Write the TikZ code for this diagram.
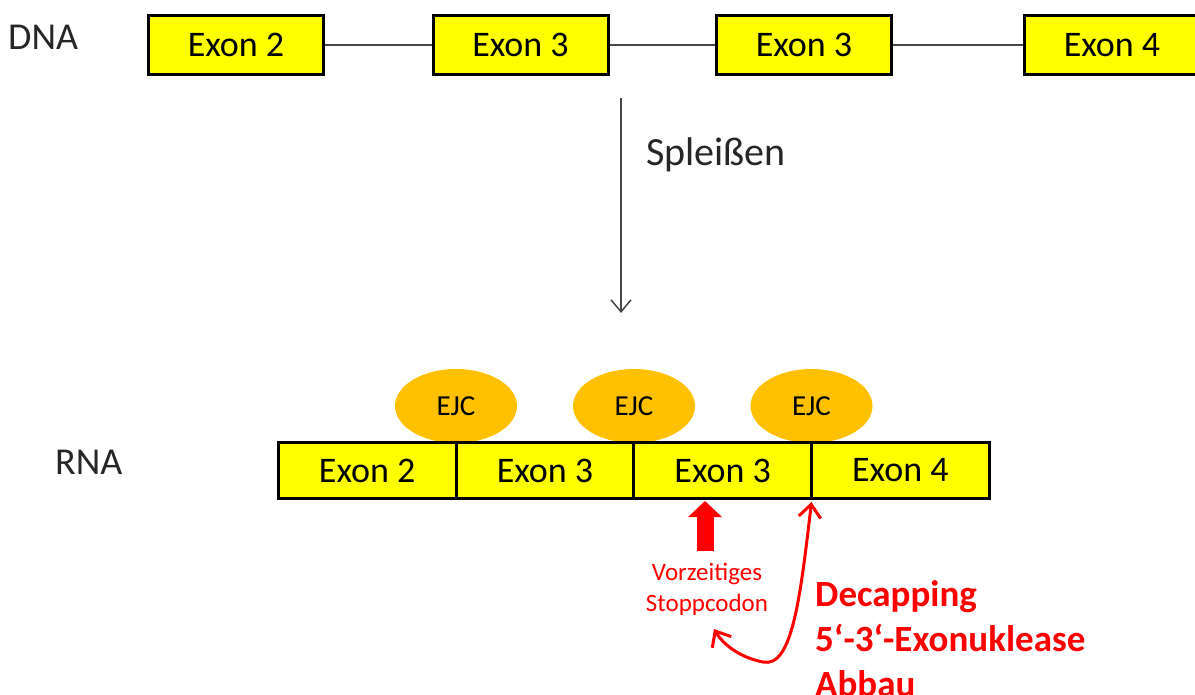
\documentclass[tikz,border=0pt]{standalone}
\usepackage{fontspec}
\setmainfont{Carlito}
\usetikzlibrary{arrows.meta,shapes.geometric}
\definecolor{exonyellow}{RGB}{255,255,0}
\definecolor{ejcorange}{RGB}{255,192,0}
\definecolor{linkgray}{RGB}{70,70,70}
\definecolor{mred}{RGB}{255,0,0}
\begin{document}
\begin{tikzpicture}[x=1pt,y=-1pt,
  dnaexon/.style={draw=black, line width=3pt, fill=exonyellow, minimum width=175pt, minimum height=59pt, inner sep=0pt, font=\fontsize{36}{40}\selectfont},
  rnaexon/.style={draw=black, line width=3pt, fill=exonyellow, minimum width=177.6pt, minimum height=56pt, inner sep=0pt, font=\fontsize{36}{40}\selectfont},
  ejc/.style={ellipse, fill=ejcorange, minimum width=122pt, minimum height=74pt, inner sep=0pt, font=\fontsize{29}{32}\selectfont},
  label/.style={inner sep=0pt, font=\fontsize{38}{42}\selectfont, text=black!85},
  intron/.style={line width=1.2pt, draw=linkgray},
  redtext/.style={inner sep=0pt, text=mred}
]
\useasboundingbox (0,0) rectangle (1195,695);
\clip (0,0) rectangle (1195,695);

% DNA
\node[label, anchor=base west] (dnalabel) at (8,50) {DNA};
\node[dnaexon] (d2) at (236,45) {Exon 2};
\node[dnaexon] (d3) at (520.5,45) {Exon 3};
\node[dnaexon] (d3b) at (804,45) {Exon 3};
\node[dnaexon] (d4) at (1112,45) {Exon 4};
\draw[intron] (d2.east) -- (d3.west);
\draw[intron] (d3.east) -- (d3b.west);
\draw[intron] (d3b.east) -- (d4.west);

% splicing arrow
\coordinate (s1) at (621,98);
\coordinate (s2) at (621,313);
\draw[line width=1.5pt, draw=linkgray, -{Straight Barb[length=12pt,width=20pt,line width=1.5pt]}] (s1) -- (s2);
\node[label, font=\fontsize{40}{44}\selectfont, anchor=base west] (splice) at (646,166) {Spleißen};

% EJCs
\node[ejc] (e1) at (456,406) {EJC};
\node[ejc] (e2) at (634,406) {EJC};
\node[ejc] (e3) at (811.5,406) {EJC};

% RNA
\node[label, anchor=base west] (rnalabel) at (55,474) {RNA};
\node[rnaexon] (r2) at (367.2,470.5) {Exon 2};
\node[rnaexon] (r3) at (545,470.5) {Exon 3};
\node[rnaexon] (r3b) at (722.7,470.5) {Exon 3};
\node[rnaexon] (r4) at (900.3,470.5) {Exon 4};

% premature stop codon
\node[redtext, align=center, font=\fontsize{25}{31}\selectfont, anchor=north] (stop) at (707,563) {Vorzeitiges\\Stoppcodon};
\coordinate (stoptip) at (705,501);
\coordinate (stopbase) at (705,551);
\draw[mred, line width=17pt, -{Triangle[length=16pt,width=33pt]}] (stopbase) -- (stoptip);

% decay arrow
\coordinate (dtop) at (811.5,502);
\coordinate (dend) at (714,629);
\draw[mred, line width=3pt, {Straight Barb[length=13pt,width=22pt,line width=3pt]}-{Straight Barb[length=13pt,width=22pt,line width=3pt]}]
  (dtop) .. controls (800,600) and (792,668) .. (763,662) .. controls (742,658) and (724,646) .. (dend);

\node[redtext, align=left, anchor=north west, font=\bfseries\fontsize{37}{45}\selectfont] (decay) at (815,580) {Decapping\\5‘-3‘-Exonuklease\\Abbau};
\end{tikzpicture}
\end{document}
